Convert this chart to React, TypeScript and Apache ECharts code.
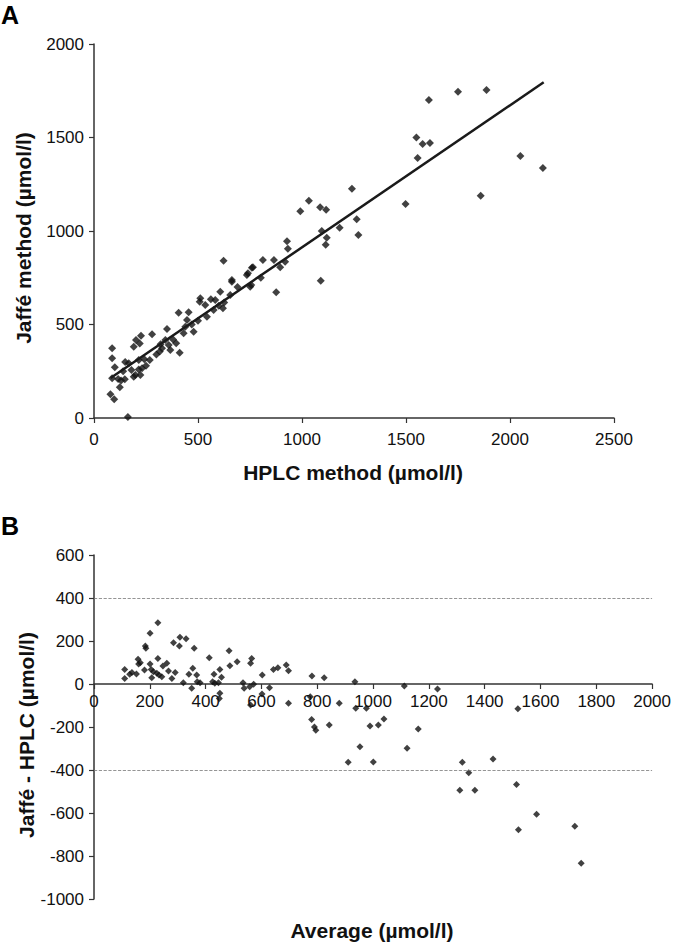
import React, { useEffect, useRef } from "react";
import * as echarts from "echarts";

// Panel A: HPLC (x) vs Jaffé (y), µmol/l
const hplcA = [87, 87, 100, 79, 97, 124, 87, 116, 148, 167, 191, 202, 226, 220, 279, 180, 199, 215, 231, 223, 191, 242, 268, 215, 316, 327, 351, 343, 359, 367, 407, 412, 439, 455, 447, 479, 431, 508, 535, 543, 562, 575, 583, 607, 626, 620, 655, 663, 751, 163, 623, 663, 759, 735, 511, 1887, 2050, 2158, 1859, 1556, 1498, 1240, 1033, 992, 1087, 1116, 1263, 1271, 1181, 1095, 1119, 1114, 1090, 928, 932, 919, 895, 865, 812, 764, 740, 756, 802, 876, 1750, 1610, 1550, 1580, 1615, 300, 320, 380, 395, 470, 500, 600, 690, 140, 250, 130, 150];
const jaffeA = [373, 319, 271, 127, 100, 164, 212, 209, 207, 293, 381, 417, 440, 399, 448, 257, 230, 260, 266, 230, 221, 314, 310, 310, 355, 373, 476, 417, 390, 364, 563, 349, 488, 565, 524, 461, 453, 622, 604, 542, 635, 578, 631, 675, 617, 587, 658, 729, 702, 5, 841, 738, 804, 765, 640, 1754, 1401, 1337, 1189, 1390, 1144, 1226, 1162, 1105, 1127, 1114, 1063, 979, 1018, 1000, 964, 927, 734, 945, 905, 836, 806, 845, 845, 806, 774, 711, 750, 672, 1745, 1700, 1500, 1465, 1470, 340, 395, 420, 400, 500, 520, 600, 700, 250, 280, 200, 300];

// Regression line endpoints (HPLC, Jaffé)
const fitX = [80, 2162];
const fitY = [214, 1795];

// Panel B: average (x) vs difference Jaffé - HPLC (y)
const avgB = [110, 110, 128, 136, 152, 158, 160, 166, 184, 186, 181, 201, 201, 205, 207, 213, 229, 229, 225, 233, 243, 247, 261, 267, 279, 285, 291, 306, 308, 320, 330, 340, 350, 354, 359, 368, 370, 380, 413, 425, 430, 433, 446, 451, 451, 457, 449, 484, 487, 513, 534, 538, 558, 561, 565, 572, 561, 603, 602, 629, 643, 659, 689, 697, 697, 775, 781, 825, 879, 843, 935, 938, 976, 989, 1019, 1039, 953, 911, 1001, 1112, 1162, 1122, 1231, 1320, 1343, 1311, 1365, 1430, 1519, 1514, 1521, 1586, 1723, 1746, 790, 795, 780];
const diffB = [68, 26, 45, 53, 47, 115, 93, 99, 177, 166, 65, 236, 93, 68, 29, 57, 285, 119, 50, 42, 34, 84, 96, 60, 26, 192, 54, 177, 217, 6, 211, 45, -20, 73, 166, 42, 11, 6, 122, 11, 45, 3, 6, 68, -43, 31, -67, 155, 85, 104, 6, -20, -13, 96, 119, -1, -98, 42, -47, -17, 68, 76, 88, 62, -90, -59, 37, 29, -90, -191, 11, -113, -113, -195, -191, -163, -292, -364, -363, -9, -209, -299, -23, -364, -413, -494, -494, -349, -115, -467, -678, -606, -662, -834, -200, -215, -165];

// Limits of agreement
const limitsB = [400, -400];

// Axis settings
const xTicksA = { min: 0, max: 2500, interval: 500 };
const yTicksA = { min: 0, max: 2000, interval: 500 };
const xTicksB = { min: 0, max: 2000, interval: 200 };
const yTicksB = { min: -1000, max: 600, interval: 200 };

const FONT = "Liberation Sans, Arial, sans-serif";
const AXIS_COLOR = "#333333";
const TEXT_COLOR = "#111111";
const POINT_COLOR = "#111111";

const GRID_B = { left: 94, top: 555, width: 560, height: 344 };
// distance from bottom of grid B to its y = 0 line
const zeroOffsetB = (GRID_B.height * (0 - yTicksB.min)) / (yTicksB.max - yTicksB.min);

function axisCommon(margin: number) {
  return {
    axisLine: { show: true, onZero: false, lineStyle: { color: AXIS_COLOR, width: 1.5 } },
    axisTick: { show: true, length: 5, lineStyle: { color: AXIS_COLOR, width: 1.2 } },
    axisLabel: {
      color: TEXT_COLOR,
      fontSize: 17,
      fontFamily: FONT,
      margin,
      formatter: (v: number) => String(v),
    },
    splitLine: { show: false },
  };
}

export default function App() {
  const ref = useRef<HTMLDivElement>(null);

  useEffect(() => {
    if (!ref.current) return;
    const chart = echarts.init(ref.current, undefined, { renderer: "svg" });

    const dataA = hplcA.map((x, i) => [x, jaffeA[i]]);
    const dataB = avgB.map((x, i) => [x, diffB[i]]);
    const fit = fitX.map((x, i) => [x, fitY[i]]);

    chart.setOption({
      animation: false,
      backgroundColor: "#ffffff",
      grid: [
        { left: 94, top: 44, width: 520, height: 374 },
        GRID_B,
      ],
      xAxis: [
        {
          type: "value",
          gridIndex: 0,
          ...xTicksA,
          ...axisCommon(13),
        },
        {
          type: "value",
          gridIndex: 1,
          position: "bottom",
          offset: -zeroOffsetB,
          ...xTicksB,
          ...axisCommon(9),
        },
      ],
      yAxis: [
        {
          type: "value",
          gridIndex: 0,
          ...yTicksA,
          ...axisCommon(10),
        },
        {
          type: "value",
          gridIndex: 1,
          ...yTicksB,
          ...axisCommon(10),
        },
      ],
      series: [
        {
          type: "scatter",
          xAxisIndex: 0,
          yAxisIndex: 0,
          data: dataA,
          symbol: "diamond",
          symbolSize: 8,
          itemStyle: { color: POINT_COLOR },
          z: 3,
        },
        {
          type: "line",
          xAxisIndex: 0,
          yAxisIndex: 0,
          data: fit,
          symbol: "none",
          lineStyle: { color: "#1a1a1a", width: 2.5 },
          z: 4,
        },
        {
          type: "scatter",
          xAxisIndex: 1,
          yAxisIndex: 1,
          data: dataB,
          symbol: "diamond",
          symbolSize: 7,
          itemStyle: { color: POINT_COLOR },
          z: 3,
          markLine: {
            silent: true,
            symbol: "none",
            label: { show: false },
            lineStyle: { color: "#7a7a7a", type: "dashed", width: 0.8 },
            data: limitsB.map((v) => ({ yAxis: v })),
          },
        },
      ],
      graphic: [
        {
          type: "text",
          left: 1,
          top: 2,
          style: { text: "A", font: `bold 25px ${FONT}`, fill: "#000" },
        },
        {
          type: "text",
          left: 1,
          top: 513,
          style: { text: "B", font: `bold 25px ${FONT}`, fill: "#000" },
        },
        {
          type: "text",
          x: 353,
          y: 472,
          style: {
            text: "HPLC method (µmol/l)",
            font: `bold 21px ${FONT}`,
            fill: TEXT_COLOR,
            align: "center",
            verticalAlign: "middle",
          },
        },
        {
          type: "text",
          x: 23,
          y: 238,
          rotation: Math.PI / 2,
          style: {
            text: "Jaffé method (µmol/l)",
            font: `bold 21px ${FONT}`,
            fill: TEXT_COLOR,
            align: "center",
            verticalAlign: "middle",
          },
        },
        {
          type: "text",
          x: 26,
          y: 735,
          rotation: Math.PI / 2,
          style: {
            text: "Jaffé - HPLC (µmol/l)",
            font: `bold 21px ${FONT}`,
            fill: TEXT_COLOR,
            align: "center",
            verticalAlign: "middle",
          },
        },
        {
          type: "text",
          x: 372,
          y: 930,
          style: {
            text: "Average (µmol/l)",
            font: `bold 21px ${FONT}`,
            fill: TEXT_COLOR,
            align: "center",
            verticalAlign: "middle",
          },
        },
      ],
    });

    return () => chart.dispose();
  }, []);

  return (
    <div
      ref={ref}
      style={{ position: "fixed", left: 0, top: 0, width: 674, height: 945, background: "#fff" }}
    />
  );
}
